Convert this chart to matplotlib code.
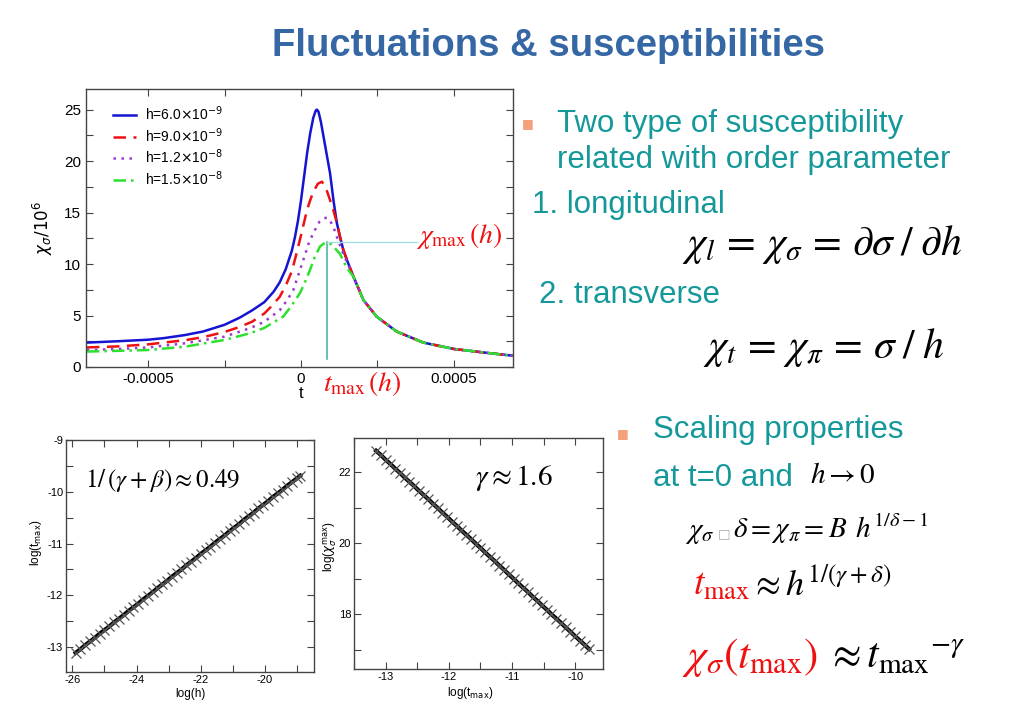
import matplotlib
matplotlib.use('Agg')
import matplotlib.pyplot as plt
from matplotlib.ticker import MultipleLocator, FixedLocator

W, H = 1023, 708

# --- main panel: chi_sigma / 10^6 versus t ---
t_tail = [1.71e-4, 2.04e-4, 2.47e-4, 3.13e-4, 4.0e-4, 5.0e-4, 6.0e-4, 7.0e-4]
chi_tail = [8.8, 6.5, 4.9, 3.44, 2.37, 1.75, 1.4, 1.07]

t_blue = [-7.0e-4, -6.0e-4, -5.0e-4, -4.5e-4, -3.8e-4, -3.2e-4, -2.5e-4, -2.0e-4,
          -1.6e-4, -1.2e-4, -9e-5, -7e-5, -5e-5, -3e-5, -2e-5, -1e-5, 0.0, 1e-5, 2e-5,
          3e-5, 4e-5, 4.8e-5, 5.2e-5, 5.7e-5, 6.5e-5, 8e-5, 9.5e-5, 1.06e-4, 1.17e-4,
          1.27e-4, 1.38e-4, 1.5e-4]
chi_blue = [2.37, 2.5, 2.65, 2.8, 3.1, 3.45, 4.1, 4.8,
            5.5, 6.3, 7.3, 8.2, 9.5, 11.3, 12.6, 14.2, 16.2, 18.5, 20.8,
            22.7, 24.2, 24.9, 25.0, 24.8, 23.8, 21.3, 18.8, 16.2, 14.0,
            12.7, 11.4, 10.4]

t_red = [-7.0e-4, -6.0e-4, -5.0e-4, -3.8e-4, -3.2e-4, -2.5e-4, -2.0e-4, -1.6e-4,
         -1.2e-4, -1e-4, -7e-5, -5e-5, -3e-5, -1.5e-5, 0.0, 2e-5, 3e-5, 4e-5, 5.5e-5,
         6.8e-5, 8e-5, 9.5e-5, 1.06e-4, 1.17e-4, 1.27e-4, 1.38e-4, 1.5e-4]
chi_red = [1.9, 2.0, 2.2, 2.6, 2.9, 3.4, 3.9, 4.4,
           5.2, 5.8, 6.8, 7.9, 9.3, 11.0, 12.8, 15.3, 16.2, 17.0, 17.8,
           18.0, 17.5, 16.2, 15.2, 14.0, 12.7, 11.4, 10.4]

t_purple = [-7.0e-4, -6.0e-4, -5.0e-4, -3.8e-4, -2.5e-4, -1.64e-4, -1.2e-4, -7e-5,
            -4.5e-5, -2.5e-5, 7.5e-6, 2.5e-5, 4e-5, 6e-5, 7.5e-5, 8.5e-5, 9.5e-5,
            1.06e-4, 1.2e-4, 1.38e-4, 1.5e-4]
chi_purple = [1.65, 1.75, 1.9, 2.3, 2.95, 3.8, 4.4, 5.5,
              6.5, 7.5, 10.4, 12.0, 13.0, 14.1, 14.45, 14.5, 14.2,
              13.6, 12.4, 11.0, 10.2]

t_green = [-7.0e-4, -6.0e-4, -5.0e-4, -3.8e-4, -2.5e-4, -1.64e-4, -1.2e-4, -5.8e-5,
           -3e-5, -3e-6, 1.5e-5, 2.9e-5, 4.5e-5, 6.2e-5, 7.5e-5, 8.5e-5, 1.0e-4,
           1.27e-4, 1.5e-4]
chi_green = [1.5, 1.57, 1.65, 1.97, 2.63, 3.3, 3.8, 4.9,
             6.0, 7.2, 8.4, 9.4, 10.7, 11.7, 12.0, 12.1, 11.9,
             11.0, 9.6]

h_labels = [r'h=6.0$\times$10$^{-9}$', r'h=9.0$\times$10$^{-9}$',
            r'h=1.2$\times$10$^{-8}$', r'h=1.5$\times$10$^{-8}$']

# --- lower left: log(t_max) versus log(h) ---
log_h = [-25.90, -25.75, -25.60, -25.45, -25.30, -25.15, -25.00, -24.85, -24.70, -24.55,
         -24.40, -24.25, -24.10, -23.95, -23.80, -23.65, -23.50, -23.35, -23.20, -23.05,
         -22.90, -22.75, -22.60, -22.45, -22.30, -22.15, -22.00, -21.85, -21.70, -21.55,
         -21.40, -21.25, -21.10, -20.95, -20.80, -20.65, -20.50, -20.35, -20.20, -20.05,
         -19.90, -19.75, -19.60, -19.45, -19.30, -19.15, -19.00, -18.90]
log_tmax = [-13.11, -13.04, -12.96, -12.89, -12.82, -12.74, -12.67, -12.60, -12.52, -12.45,
            -12.38, -12.30, -12.23, -12.16, -12.08, -12.01, -11.94, -11.86, -11.79, -11.72,
            -11.64, -11.57, -11.50, -11.42, -11.35, -11.28, -11.20, -11.13, -11.06, -10.98,
            -10.91, -10.84, -10.76, -10.69, -10.62, -10.54, -10.47, -10.40, -10.32, -10.25,
            -10.18, -10.10, -10.03, -9.96, -9.88, -9.81, -9.74, -9.69]

# --- lower right: log(chi_max) versus log(t_max) ---
log_t = [-13.150, -13.075, -13.000, -12.925, -12.850, -12.775, -12.700, -12.625,
         -12.550, -12.475, -12.400, -12.325, -12.250, -12.175, -12.100, -12.025,
         -11.950, -11.875, -11.800, -11.725, -11.650, -11.575, -11.500, -11.425,
         -11.350, -11.275, -11.200, -11.125, -11.050, -10.975, -10.900, -10.825,
         -10.750, -10.675, -10.600, -10.525, -10.450, -10.375, -10.300, -10.225,
         -10.150, -10.075, -10.000, -9.925, -9.850, -9.780]
log_chimax = [22.60, 22.48, 22.35, 22.23, 22.10, 21.98, 21.85, 21.73,
              21.61, 21.48, 21.36, 21.24, 21.11, 20.99, 20.86, 20.74,
              20.61, 20.49, 20.36, 20.24, 20.12, 19.99, 19.87, 19.74,
              19.62, 19.50, 19.37, 19.25, 19.12, 19.00, 18.87, 18.75,
              18.63, 18.50, 18.38, 18.25, 18.13, 18.00, 17.88, 17.76,
              17.63, 17.51, 17.38, 17.26, 17.14, 17.02]

SANS = ['Liberation Sans', 'DejaVu Sans']
TEAL = '#15989a'
RED = '#ee1111'
plt.rcParams['axes.unicode_minus'] = False
plt.rcParams['font.family'] = SANS


def box(x0, y0, x1, y1):
    # pixel box of the slide -> figure fraction rect
    return [x0 / W, 1 - y1 / H, (x1 - x0) / W, (y1 - y0) / H]


def put(x, y, s, **kw):
    # text placed with slide pixel coordinates
    return fig.text(x / W, 1 - y / H, s, **kw)


def frame(ax, size, pad=3.5):
    for sp in ax.spines.values():
        sp.set_color('#444444')
        sp.set_linewidth(1.0)
    ax.tick_params(which='both', direction='in', top=True, right=True,
                   length=5, width=0.8, colors='#444444', labelcolor='black',
                   labelsize=size, pad=pad)


fig = plt.figure(figsize=(W / 100, H / 100), dpi=100)

put(548, 46, 'Fluctuations & susceptibilities', ha='center', va='center',
    fontsize=27.5, fontweight='bold', color='#3567a5')

# main susceptibility panel
ax = fig.add_axes(box(86, 89, 513, 367))
ax.plot(t_blue + t_tail, chi_blue + chi_tail, color='#1414d2', lw=1.8, label=h_labels[0])
ax.plot(t_red + t_tail, chi_red + chi_tail, color=RED, lw=1.8, ls=(0, (5, 3)), label=h_labels[1])
ax.plot(t_purple + t_tail, chi_purple + chi_tail, color='#9a3ad0', lw=1.8, ls=(0, (1, 2.2)), label=h_labels[2])
ax.plot(t_green + t_tail, chi_green + chi_tail, color='#2ee02e', lw=1.8, ls=(0, (5, 2, 1, 2)), label=h_labels[3])

i_pk = chi_green.index(max(chi_green))
t_pk, chi_pk = t_green[i_pk], chi_green[i_pk]
ax.plot([t_pk, t_pk], [0.8, chi_pk], color='#4ab8a8', lw=1.2)
ax.plot([t_pk, 3.8e-4], [chi_pk, chi_pk], color='#a8dce0', lw=1.0)

ax.set_xlim(-7.03e-4, 6.93e-4)
ax.set_ylim(0, 27)
ax.xaxis.set_major_locator(FixedLocator([-0.0005, 0, 0.0005]))
ax.set_xticklabels(['-0.0005', '0', '0.0005'])
ax.xaxis.set_minor_locator(MultipleLocator(0.00025))
ax.yaxis.set_major_locator(MultipleLocator(5))
ax.yaxis.set_minor_locator(MultipleLocator(2.5))
frame(ax, 11)
ax.legend(loc='upper left', bbox_to_anchor=(0.035, 0.99), frameon=False,
          fontsize=10, handlelength=1.6, handletextpad=0.7, labelspacing=0.22)
put(43, 228, r'$\chi_\sigma/10^6$', ha='center', va='center', rotation=90, fontsize=12)
put(301, 393, 't', ha='center', va='center', fontsize=12)
put(416, 243, r'$\chi_{\rm max}\,(h)$', color=RED, fontsize=20, math_fontfamily='stix',
    va='baseline')
put(323, 391, r'$t_{\rm max}\,(h)$', color=RED, fontsize=20, math_fontfamily='stix',
    va='baseline')

# lower left panel
ax2 = fig.add_axes(box(66, 440, 314, 672))
ax2.plot(log_h, log_tmax, color='black', lw=3)
ax2.plot(log_h, log_tmax, ls='none', marker='x', ms=7, mew=0.9, color='#555555')
ax2.set_xlim(-26.2, -18.47)
ax2.set_ylim(-13.48, -9.0)
ax2.xaxis.set_major_locator(MultipleLocator(2))
ax2.xaxis.set_minor_locator(MultipleLocator(1))
ax2.yaxis.set_major_locator(MultipleLocator(1))
ax2.yaxis.set_minor_locator(MultipleLocator(0.5))
frame(ax2, 8, pad=2)
put(190, 694, 'log(h)', ha='center', va='center', fontsize=8.5)
put(36, 543, r'log(t$_{\rm max}$)', ha='center', va='center', rotation=90, fontsize=8.5)
put(85, 480, r'$1/\,(\gamma+\beta)\approx 0.49$', fontsize=18, math_fontfamily='stix',
    va='center')

# lower right panel
ax3 = fig.add_axes(box(354, 438, 603, 669))
ax3.plot(log_t, log_chimax, color='black', lw=3)
ax3.plot(log_t, log_chimax, ls='none', marker='x', ms=7, mew=0.9, color='#555555')
ax3.set_xlim(-13.5, -9.56)
ax3.set_ylim(16.46, 22.96)
ax3.xaxis.set_major_locator(MultipleLocator(1))
ax3.xaxis.set_minor_locator(MultipleLocator(0.5))
ax3.yaxis.set_major_locator(MultipleLocator(2))
ax3.yaxis.set_minor_locator(MultipleLocator(1))
frame(ax3, 8, pad=2)
put(470, 693, r'log(t$_{\rm max}$)', ha='center', va='center', fontsize=8.5)
put(330, 547, r'log($\chi_\sigma^{\rm max}$)', ha='center', va='center', rotation=90,
    fontsize=8.5)
put(475, 478, r'$\gamma\approx 1.6$', fontsize=21, math_fontfamily='stix', va='center')

# right hand text
put(528, 124, '\u25a0', color='#f4a07a', fontsize=9, ha='center', va='center', family='DejaVu Sans')
put(557, 131.7, 'Two type of susceptibility', color=TEAL, fontsize=22.5)
put(557, 168.3, 'related with order parameter', color=TEAL, fontsize=22.5)
put(532, 213.3, '1. longitudinal', color=TEAL, fontsize=22.5)
put(682, 255, r'$\chi_l\,=\,\chi_\sigma\,=\,\partial\sigma\;/\;\partial h$', fontsize=30,
    math_fontfamily='stix')
put(539, 303.3, '2. transverse', color=TEAL, fontsize=22.5)
put(703, 358.3, r'$\chi_t\,=\,\chi_\pi\,=\,\sigma\;/\;h$', fontsize=30, math_fontfamily='stix')

put(623, 434, '\u25a0', color='#f4a07a', fontsize=9, ha='center', va='center', family='DejaVu Sans')
put(653, 438.3, 'Scaling properties', color=TEAL, fontsize=22.5)
put(653, 486, 'at t=0 and', color=TEAL, fontsize=22.5)
put(810, 483.3, r'$h\rightarrow 0$', fontsize=21, math_fontfamily='stix')
put(685, 538.3, r'$\chi_\sigma$', fontsize=21, math_fontfamily='stix')
put(718, 537, '\u25a1', fontsize=9.5, color='#aaaaaa', family='DejaVu Sans')
put(733, 538.3, r'$\delta = \chi_\pi = B\;\,h^{1/\delta-1}$', fontsize=21, math_fontfamily='stix')
put(693, 595, r'$t_{\rm max}$', color=RED, fontsize=27, math_fontfamily='stix')
put(750, 595, r'$\approx h^{1/(\gamma+\delta)}$', fontsize=26, math_fontfamily='stix')
put(682, 668.3, r'$\chi_\sigma(t_{\rm max})$', color=RED, fontsize=31, math_fontfamily='stix')
put(826, 668.3, r'$\approx t_{\rm max}{}^{-\gamma}$', fontsize=30, math_fontfamily='stix')

fig.savefig('out.png', dpi=100)
